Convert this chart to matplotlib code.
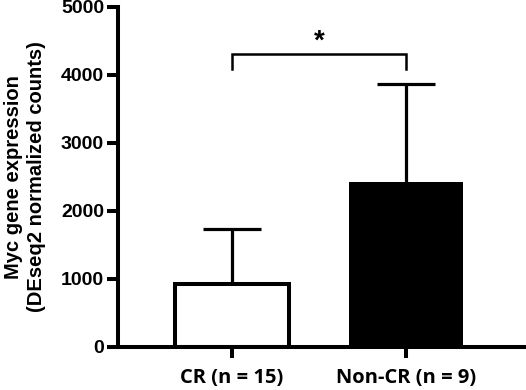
import matplotlib.pyplot as plt

groups = ['CR (n = 15)', 'Non-CR (n = 9)']
means = [920, 2420]
sds = [820, 1450]
bracket_y = 4310
bracket_drop = 220

fig = plt.figure(figsize=(5.26, 3.90), dpi=100)
ax = fig.add_axes([0.2243, 0.1103, 0.772, 0.872])

lw = 2.9
x = [0, 1]
width = 0.65

# error bars first so the bars sit on top
for xi, m, s in zip(x, means, sds):
    ax.vlines(xi, m, m + s, color='black', lw=2.3, zorder=1)
    ax.hlines(m + s, xi - 0.165, xi + 0.165, color='black', lw=2.3, zorder=1)

ax.bar(x[0], means[0], width=width, facecolor='white', edgecolor='black', linewidth=lw, zorder=2)
ax.bar(x[1], means[1], width=width, facecolor='black', edgecolor='black', linewidth=0, zorder=2)

# significance bracket
ax.plot([x[0], x[0], x[1], x[1]],
        [bracket_y - bracket_drop, bracket_y, bracket_y, bracket_y - bracket_drop],
        color='black', lw=1.8, solid_joinstyle='miter')
ax.text(0.5, bracket_y - 10, '*', ha='center', va='bottom', fontsize=20,
        fontweight='bold', family='Liberation Sans')

ax.set_xlim(-0.655, 1.678)
ax.set_ylim(0, 5000)
ax.set_yticks([0, 1000, 2000, 3000, 4000, 5000])
ax.set_xticks(x)
ax.set_xticklabels(groups)

for side in ['top', 'right']:
    ax.spines[side].set_visible(False)
for side in ['left', 'bottom']:
    ax.spines[side].set_linewidth(lw)
    ax.spines[side].set_capstyle('projecting')

ax.tick_params(axis='both', direction='out', length=8, width=lw)
ax.tick_params(axis='y', pad=2)
ax.tick_params(axis='x', pad=7)
for lab in ax.get_yticklabels():
    lab.set_fontfamily('Liberation Sans')
    lab.set_fontweight('bold')
    lab.set_fontsize(14)
for lab in ax.get_xticklabels():
    lab.set_fontfamily('Open Sans')
    lab.set_fontweight('bold')
    lab.set_fontsize(14.5)

ax.set_ylabel('Myc gene expression\n(DEseq2 normalized counts)', fontsize=14.5,
              fontweight='bold', family='Liberation Sans', labelpad=11, linespacing=1.25)

fig.savefig('out.png', dpi=100)
